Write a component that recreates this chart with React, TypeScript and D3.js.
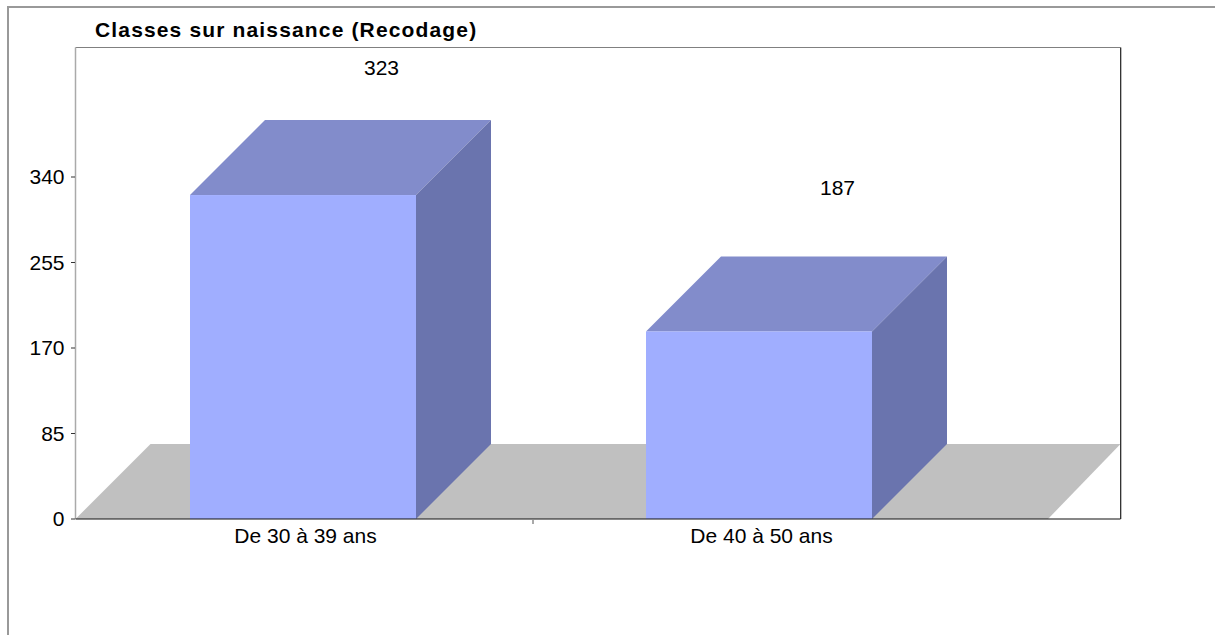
import React from "react";
import * as d3 from "d3";

const categories = ["De 30 à 39 ans", "De 40 à 50 ans"];
const values = [323, 187];
const yTicks = [0, 85, 170, 255, 340];
const titleText = "Classes sur naissance (Recodage)";

const W = 1215, H = 635;
const plot = { l: 75.5, r: 1120.5, t: 47.5, b: 519 };
const depth = 75;
const y = d3.scaleLinear().domain([0, 340]).range([plot.b, 178]);
const x = d3.scaleBand<string>().domain(categories).range([75, 987]).paddingInner(0.5044).paddingOuter(0.2522);
const valueLabelY = d3.scaleLinear().domain([187, 323]).range([195, 75]);
const font = "'Liberation Sans', Arial, sans-serif";
const poly = d3.line<[number, number]>();

export default function App() {
  const fl = plot.l, fb = plot.b, ft = plot.b - depth;
  return (
    <svg width={W} height={H} style={{ position: "absolute", left: 0, top: 0, display: "block", background: "#fff" }} fontFamily={font}>
      <path d={`M8 ${H}V7H${W}`} fill="none" stroke="#999" strokeWidth={2} />
      <text x={95} y={37} fontSize={21} fontWeight={700} fill="#000" letterSpacing={1.15}>{titleText}</text>
      <path d={poly([[fl, fb], [fl + depth, ft], [plot.r, ft], [1048, fb]])! + "Z"} fill="#c0c0c0" />
      <path d={`M${plot.l} ${plot.t}H${plot.r}`} stroke="#808080" strokeWidth={1} fill="none" />
      <path d={`M${plot.l} ${plot.b}V${plot.t}`} stroke="#aaa" strokeWidth={1.5} fill="none" />
      <path d={`M${plot.r + 1} ${plot.t}V${plot.b}`} stroke="#bbb" strokeWidth={1} fill="none" />
      <path d={`M${plot.r} ${plot.t}V${plot.b}`} stroke="#333" strokeWidth={1} fill="none" />
      {categories.map((c, i) => {
        const x0 = x(c)!, x1 = x0 + x.bandwidth(), yt = y(values[i]), yb = y(0);
        return (
          <g key={c}>
            <path d={poly([[x0, yt], [x0 + depth, yt - depth], [x1 + depth, yt - depth], [x1, yt]])! + "Z"} fill="#828ccb" />
            <path d={poly([[x1, yt], [x1 + depth, yt - depth], [x1 + depth, yb - depth], [x1, yb]])! + "Z"} fill="#6a74ae" />
            <rect x={x0} y={yt} width={x.bandwidth()} height={yb - yt} fill="#a0aeff" />
            <text x={x0 + x.bandwidth() / 2 + 2.5} y={plot.b + 24} fontSize={21} textAnchor="middle" fill="#000">{c}</text>
            <text x={x0 + x.bandwidth() / 2 + 78.5} y={valueLabelY(values[i])} fontSize={21} textAnchor="middle" fill="#000">{values[i]}</text>
          </g>
        );
      })}
      <path d={`M${plot.l} ${plot.b}H${plot.r}`} stroke="#111" strokeWidth={1.2} fill="none" />
      {yTicks.map(t => (
        <g key={t}>
          <line x1={71} x2={75} y1={y(t) - (t / 340)} y2={y(t) - (t / 340)} stroke="#333" />
          <text x={64.5} y={y(t) - (t / 340) + 7} fontSize={21} textAnchor="end" fill="#000">{t}</text>
        </g>
      ))}
      <line x1={533} x2={533} y1={plot.b + 1} y2={plot.b + 5} stroke="#555" />
    </svg>
  );
}
